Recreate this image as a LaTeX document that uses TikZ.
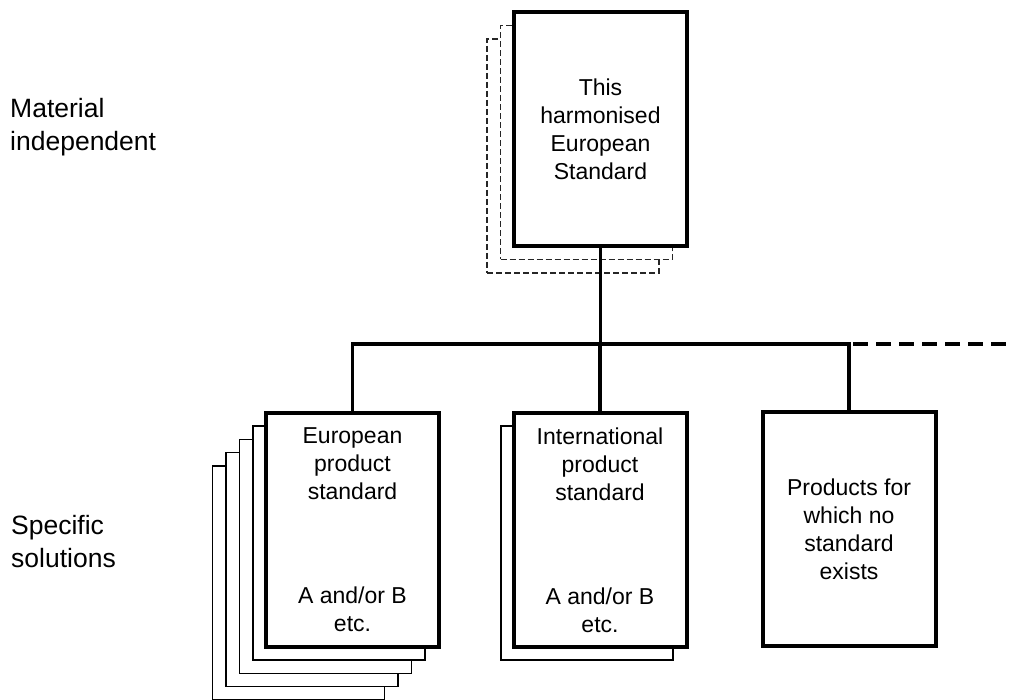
\documentclass[tikz,border=0pt]{standalone}
\usepackage{fontspec}
\setmainfont{Liberation Sans}
\begin{document}
\begin{tikzpicture}[x=1pt,y=-1pt,
  mainbox/.style={draw=black,fill=white,line width=4pt,minimum width=173pt,minimum height=234pt,inner sep=0pt,align=center,font=\fontsize{23}{28}\selectfont},
  backbox/.style={draw=black,fill=white,line width=1.5pt,minimum width=172pt,minimum height=234pt,inner sep=0pt},
  dashbox/.style={draw=black!85,fill=white,line width=1.2pt,dash pattern=on 6pt off 3pt,minimum width=172pt,minimum height=234pt,inner sep=0pt},
  conn/.style={line width=3.5pt,line cap=rect},
  dconn/.style={line width=3.5pt,dash pattern=on 15pt off 8pt},
  sidelabel/.style={anchor=north west,inner sep=0pt,align=left,font=\fontsize{26.5}{33}\selectfont}
]
\useasboundingbox (0,0) rectangle (1014,700);

% top stack
\node[dashbox] (tb2) at (573,156) {};
\node[dashbox] (tb1) at (586.5,142.5) {};
\node[mainbox] (top) at (600.5,129) {This\\harmonised\\European\\Standard};

% European stack
\node[backbox] (eb4) at (298.5,583) {};
\node[backbox] (eb3) at (312,569.5) {};
\node[backbox] (eb2) at (325.5,556.5) {};
\node[backbox] (eb1) at (339,543) {};
\node[mainbox] (eps) at (352.5,530) {European\\product\\standard\\[76pt]A and/or B\\etc.};

% International stack
\node[backbox] (ib1) at (587,543) {};
\node[mainbox] (ips) at (600,530) {International\\product\\standard\\[76pt]A and/or B\\etc.};

% No standard
\node[mainbox] (nps) at (849,529) {Products for\\which no\\standard\\exists};

% side labels
\node[sidelabel] (mi) at (10,98) {Material\\independent};
\node[sidelabel] (ss) at (11,515) {Specific\\solutions};

% connectors
\coordinate (busL) at (352.5,344);
\coordinate (busR) at (849,344);
\coordinate (busE) at (1016,344);
\draw[conn] (top.south) -- (top.south |- busL);
\draw[conn] (eps.north) -- (busL) -- (busR) -- (nps.north);
\draw[conn] (ips.north) -- (ips.north |- busL);
\draw[dconn] ([xshift=4pt]busR) -- (busE);
\end{tikzpicture}
\end{document}
